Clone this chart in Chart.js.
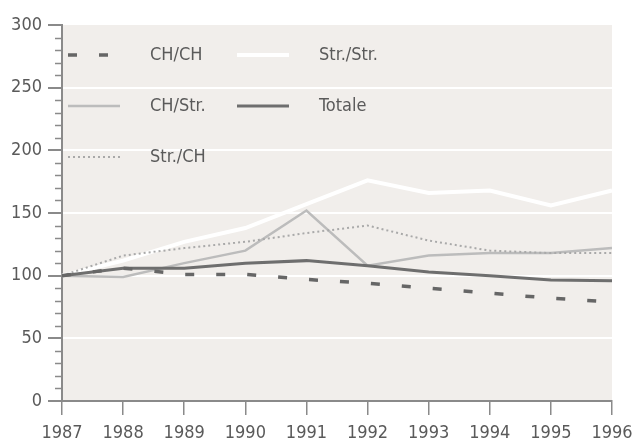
<!DOCTYPE html>
<html>
<head>
<meta charset="utf-8">
<script src="https://cdn.jsdelivr.net/npm/chart.js@4.4.1/dist/chart.umd.min.js"></script>
<style>
    body { margin: 0; background: #ffffff; }
    #chart { display: block; }
</style>
</head>
<body>
<canvas id="chart" width="632" height="441"></canvas>
<script>

// ================= DATA =================

const years = ["1987", "1988", "1989", "1990", "1991", "1992", "1993", "1994", "1995", "1996"];

const chCh = [100, 106, 101, 101, 97, 94, 90, 86, 82, 79];
const chStr = [100, 99, 110, 120, 152, 108, 116, 118, 118, 122];
const strCh = [100, 116, 122, 127, 134, 140, 128, 120, 118, 118];
const strStr = [100, 112, 127, 138, 157, 176, 166, 168, 156, 168];
const totale = [100, 106, 106, 110, 112, 108, 103, 100, 96.5, 96];

const yTicks = [0, 50, 100, 150, 200, 250, 300];

const FONT = "'Liberation Sans Narrow', 'DejaVu Sans Condensed', sans-serif";
const TEXT = "#5a5a5a";
const AXIS = "#8a8a8a";

// ================= PLUGINS =================

// plot background
const plotBg = {
    id: "plotBg",
    beforeDraw(chart) {
        const a = chart.chartArea;
        const ctx = chart.ctx;
        ctx.save();
        ctx.fillStyle = "#f1eeeb";
        ctx.fillRect(a.left, a.top, a.right - a.left, a.bottom - a.top);
        ctx.restore();
    }
};

// minor ticks every 10 on the y axis
const minorTicks = {
    id: "minorTicks",
    afterDraw(chart) {
        const y = chart.scales.y;
        const ctx = chart.ctx;
        ctx.save();
        ctx.strokeStyle = AXIS;
        ctx.lineWidth = 1.5;
        for (let v = 0; v <= 300; v += 10) {
            if (v % 50 === 0) continue;
            const py = Math.round(y.getPixelForValue(v)) + 0.5;
            ctx.beginPath();
            ctx.moveTo(y.right - 7, py);
            ctx.lineTo(y.right, py);
            ctx.stroke();
        }
        ctx.restore();
    }
};

// legend inside the plot, two columns
const insideLegend = {
    id: "insideLegend",
    afterDatasetsDraw(chart) {
        const a = chart.chartArea;
        const ctx = chart.ctx;
        const cols = [[0, 1, 2], [3, 4]];
        const colX = [6, 175];
        const rowY = [30, 81, 132];
        ctx.save();
        ctx.font = "18px " + FONT;
        ctx.textBaseline = "middle";
        cols.forEach((col, c) => {
            col.forEach((di, r) => {
                const ds = chart.data.datasets[di];
                const x = a.left + colX[c];
                const y = a.top + rowY[r];
                ctx.strokeStyle = ds.borderColor;
                ctx.lineWidth = ds.borderWidth;
                ctx.setLineDash(ds.borderDash || []);
                ctx.beginPath();
                ctx.moveTo(x, y);
                ctx.lineTo(x + 52, y);
                ctx.stroke();
                ctx.setLineDash([]);
                ctx.fillStyle = TEXT;
                ctx.fillText(ds.label, x + 82, y);
            });
        });
        ctx.restore();
    }
};

// ================= CHART =================

new Chart(document.getElementById("chart"), {

    type: "line",

    data: {

        labels: years,

        datasets: [
            {
                label: "CH/CH",
                data: chCh,
                borderColor: "#666666",
                borderWidth: 3.5,
                borderDash: [9, 22],
                order: 0
            },
            {
                label: "CH/Str.",
                data: chStr,
                borderColor: "#bcbcbc",
                borderWidth: 2.5,
                order: 3
            },
            {
                label: "Str./CH",
                data: strCh,
                borderColor: "#a9a9a9",
                borderWidth: 2,
                borderDash: [2, 3],
                order: 2
            },
            {
                label: "Str./Str.",
                data: strStr,
                borderColor: "#ffffff",
                borderWidth: 4,
                order: 4
            },
            {
                label: "Totale",
                data: totale,
                borderColor: "#6e6e6e",
                borderWidth: 3,
                order: 1
            }
        ]

    },

    options: {

        responsive: false,
        animation: false,
        devicePixelRatio: 1,

        layout: {
            padding: { top: 25, right: 20, left: 0, bottom: 0 }
        },

        elements: {
            point: { radius: 0 },
            line: { tension: 0, fill: false }
        },

        plugins: {
            legend: { display: false },
            tooltip: { enabled: false }
        },

        scales: {

            x: {
                offset: false,
                afterFit(scale) {
                    scale.height = 40;
                    scale.paddingLeft = 0;
                    scale.paddingRight = 0;
                },
                border: { color: AXIS, width: 2 },
                grid: {
                    drawOnChartArea: false,
                    drawTicks: true,
                    tickLength: 14,
                    tickColor: AXIS,
                    lineWidth: 1.5
                },
                ticks: {
                    color: TEXT,
                    font: { family: FONT, size: 18 },
                    padding: 8,
                    maxRotation: 0,
                    autoSkip: false
                }
            },

            y: {
                min: 0,
                max: 300,
                afterFit(scale) { scale.width = 62; },
                afterBuildTicks(scale) {
                    scale.ticks = yTicks.map(v => ({ value: v }));
                },
                border: { color: AXIS, width: 2 },
                grid: {
                    color: ctx => ctx.tick && ctx.tick.value > 0 && ctx.tick.value < 300 ? "#ffffff" : "rgba(0,0,0,0)",
                    lineWidth: 2,
                    drawTicks: true,
                    tickLength: 14,
                    tickColor: AXIS
                },
                ticks: {
                    color: TEXT,
                    font: { family: FONT, size: 18 },
                    padding: 6
                }
            }

        }

    },

    plugins: [plotBg, minorTicks, insideLegend]

});

</script>
</body>
</html>
